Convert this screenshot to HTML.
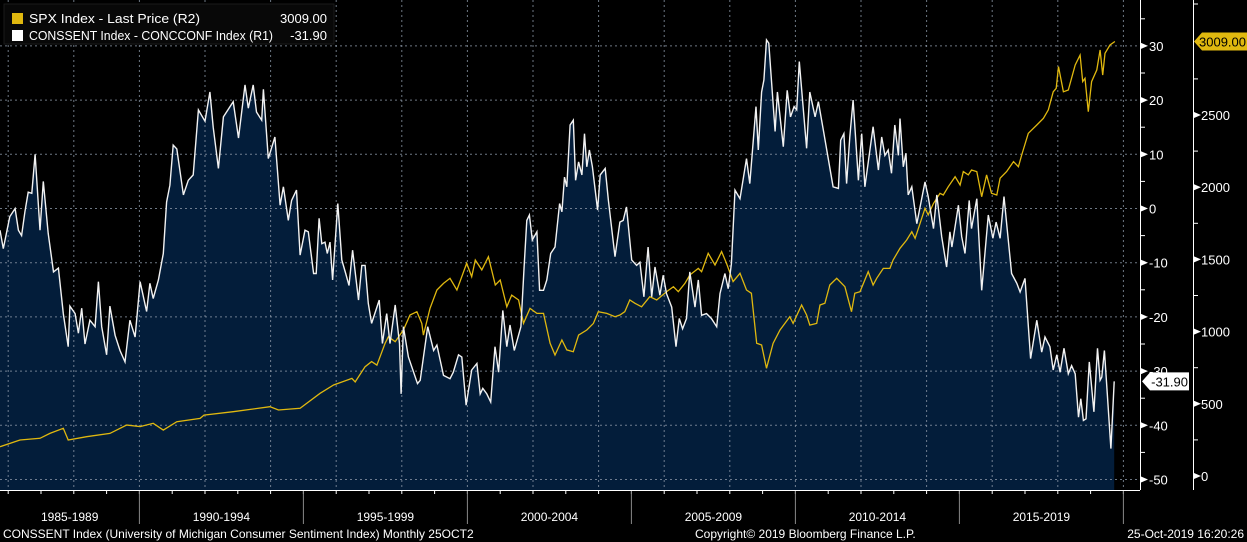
<!DOCTYPE html>
<html><head><meta charset="utf-8">
<style>
html,body{margin:0;padding:0;background:#000;}
svg{display:block;font-family:"Liberation Sans",sans-serif;}
</style></head>
<body>
<svg id="chart" width="1247" height="542" viewBox="0 0 1247 542" xmlns="http://www.w3.org/2000/svg">
<rect x="0" y="0" width="1247" height="542" fill="#000"/>
<g id="grid"></g>
<g id="series"></g>
<g id="axes"></g>
<g>
  <rect x="4" y="4" width="330" height="40" fill="#080808" stroke="#1a1a1a"/>
  <rect x="12" y="13" width="11" height="11" fill="#e0b80f"/>
  <text x="29" y="23" fill="#fff" font-size="13" textLength="171" lengthAdjust="spacingAndGlyphs">SPX Index - Last Price (R2)</text>
  <text x="327" y="23" fill="#fff" font-size="13" text-anchor="end">3009.00</text>
  <rect x="12" y="30" width="11" height="11" fill="#fff"/>
  <text x="29" y="40" fill="#fff" font-size="13" textLength="244" lengthAdjust="spacingAndGlyphs">CONSSENT Index - CONCCONF Index (R1)</text>
  <text x="327" y="40" fill="#fff" font-size="13" text-anchor="end">-31.90</text>
</g>
<text x="3" y="538" fill="#fff" font-size="12">CONSSENT Index (University of Michigan Consumer Sentiment Index)  Monthly 25OCT2</text>
<text x="695" y="538" fill="#fff" font-size="12">Copyright© 2019 Bloomberg Finance L.P.</text>
<text x="1244" y="538" fill="#fff" font-size="12" text-anchor="end">25-Oct-2019 16:20:26</text>
</svg>
<script>
// ---- data ----
const sentYears = [1985.75,1985.85,1986.05,1986.21,1986.31,1986.41,1986.51,1986.61,1986.72,1986.82,1986.97,1987.07,1987.22,1987.38,1987.53,1987.68,1987.83,1987.88,1988.04,1988.14,1988.24,1988.34,1988.49,1988.65,1988.75,1988.85,1989.00,1989.10,1989.26,1989.41,1989.56,1989.71,1989.87,1990.02,1990.22,1990.32,1990.42,1990.58,1990.73,1990.83,1990.93,1991.03,1991.14,1991.34,1991.49,1991.64,1991.80,1992.00,1992.15,1992.25,1992.41,1992.56,1992.86,1993.02,1993.22,1993.32,1993.47,1993.57,1993.73,1993.78,1993.93,1994.13,1994.29,1994.39,1994.54,1994.64,1994.79,1994.90,
1995.05,1995.15,1995.31,1995.39,1995.48,1995.56,1995.66,1995.73,1995.81,1995.89,1996.05,1996.17,1996.29,1996.39,1996.50,1996.68,1996.78,1996.88,1996.98,1997.08,1997.31,1997.41,1997.54,1997.64,1997.80,1997.93,1997.98,1998.05,1998.20,1998.48,1998.56,1998.79,1998.97,1999.07,1999.27,1999.47,1999.57,1999.73,1999.83,1999.96,2000.13,2000.29,2000.39,2000.47,2000.59,2000.71,2000.84,2000.95,2001.08,2001.20,2001.30,2001.43,2001.63,2001.73,2001.81,2001.89,2001.98,2002.12,2002.20,2002.32,2002.42,2002.54,2002.67,2002.81,2002.88,2002.96,2003.03,2003.13,2003.23,2003.30,2003.39,2003.49,2003.57,2003.64,2003.72,2003.81,2003.97,2004.05,2004.20,2004.30,2004.50,
2004.65,2004.75,2004.85,2005.01,2005.16,2005.26,2005.38,2005.51,2005.62,2005.72,2005.87,2005.97,2006.07,2006.23,2006.36,2006.46,2006.56,2006.68,2006.78,2006.94,2007.04,2007.14,2007.29,2007.44,2007.60,2007.70,2007.85,2007.95,2008.05,2008.16,2008.31,2008.51,2008.61,2008.80,2008.87,2008.97,2009.04,2009.12,2009.19,2009.38,2009.45,2009.63,2009.75,2009.85,2009.96,2010.04,2010.12,2010.34,2010.44,2010.60,2010.70,2010.85,2011.15,2011.31,2011.38,2011.48,2011.56,2011.66,2011.76,2011.92,2012.02,2012.12,2012.37,2012.53,2012.63,2012.73,2012.83,2012.93,2013.03,2013.14,
2013.19,2013.29,2013.37,2013.44,2013.55,2013.70,2013.95,2014.05,2014.21,2014.31,2014.46,2014.61,2014.71,2014.77,2014.97,2015.07,2015.17,2015.30,2015.37,2015.53,2015.68,2015.88,2016.02,2016.12,2016.24,2016.36,2016.46,2016.59,2016.75,2016.85,2017.00,2017.17,2017.36,2017.51,2017.61,2017.76,2017.86,2017.97,2018.07,2018.19,2018.32,2018.42,2018.53,2018.63,2018.70,2018.78,2018.86,2018.96,2019.10,2019.21,2019.29,2019.34,2019.42,2019.51,2019.62,2019.72];
const sentValues = [-4,-7.4,-1.5,0,-4,-5,-0.6,3,2.8,10,-4,5,-4.6,-11.7,-11,-19.4,-25.5,-18,-19.4,-23,-18.4,-25,-20.6,-21.8,-13.5,-21.8,-27,-18,-23.4,-26.2,-28.3,-20.6,-23.7,-13.5,-19,-13.8,-16.6,-13.2,-8.3,1.2,4.3,11.7,11,2.5,5.2,6.2,18.2,16.1,21.5,15,7.4,16.9,19.7,13,22.8,18.5,22.8,17.8,16.3,22,9.2,13.2,0.6,4,-2.2,1.5,3.4,-8.6,
-4,-4.3,-12,-12,-1.8,-6.5,-6.2,-8.3,-6.2,-13.2,0.9,-9.5,-12,-14.2,-7.7,-16.9,-10.5,-10.5,-17.5,-21.2,-16.9,-24.9,-19.4,-24.9,-17.8,-24.9,-34.2,-21.8,-27.4,-32.3,-31.7,-21.8,-26.2,-25.2,-30.8,-31.4,-30.2,-27,-27.4,-36.3,-29.8,-28.6,-34.2,-33.2,-34.2,-35.7,-25.5,-30.2,-18.8,-25.5,-21.5,-26.2,-21.8,-10.8,-2.2,-1.2,-5.8,-4.3,-15.1,-15.1,-13.2,-8.3,-7.1,0.9,-0.6,5.8,4,15.4,16.3,5.2,8.6,6.2,13.8,7.7,10.8,7.7,-0.3,6.2,7.4,1.5,-8.9,
-2.5,-2.2,0.3,-9.5,-10.5,-9.9,-16.3,-7.1,-16.3,-10.8,-16,-12.3,-15.7,-18.2,-25.5,-20.3,-22.2,-20.3,-11.7,-18.2,-13.2,-19.7,-19.4,-20.3,-21.8,-15.7,-12,-14.8,-10.2,3.4,1.8,9.2,4.6,18.8,10.8,21.5,23.7,31.1,30.5,14.2,21.5,11.4,21.8,16.9,18.8,18.2,27.1,11.1,21.5,16.9,19.7,14.5,4,3.7,12.6,13.8,4.6,13.2,20,5.2,13.8,4,15.1,7.1,13.2,9.8,10.8,6.5,15.4,9.8,
16.6,7.7,10.2,2.5,4,-2.8,4.9,2.2,-3.7,2.5,-5.2,-10.8,-4.3,-7.1,0.6,-5.2,-8.3,1.5,-3.7,1.8,-15.1,-1.2,-5.5,-2.5,-5.5,2.2,-4,-12,-13.8,-15.4,-12.9,-27.7,-20.6,-26.5,-23.7,-25.5,-29.8,-27,-30.2,-25.8,-30.5,-29,-30.5,-38.5,-35.1,-39.1,-38.8,-28.3,-37.5,-25.8,-31.7,-31.1,-26.2,-34.2,-44.3,-31.9];

const spxYears = [1985.75,1986.36,1986.97,1987.27,1987.68,1987.83,1988.39,1989.10,1989.61,1990.02,1990.42,1990.73,1991.14,1991.85,1991.97,1992.86,1993.98,1994.24,1994.90,
1995.51,1995.92,1996.48,1996.58,1996.88,1997.08,1997.24,1997.49,1997.59,1997.80,1998.05,1998.25,1998.46,1998.61,1998.66,1998.86,1999.07,1999.27,1999.47,1999.68,1999.98,2000.13,2000.24,2000.44,2000.64,2000.85,2001.00,2001.20,2001.35,2001.56,2001.71,2001.91,2002.12,2002.32,2002.52,2002.67,2002.88,2003.03,2003.23,2003.39,2003.64,2003.84,2003.99,2004.25,2004.50,
2004.65,2004.80,2004.95,2005.11,2005.31,2005.56,2005.77,2006.07,2006.28,2006.43,2006.63,2006.78,2007.04,2007.14,2007.34,2007.55,2007.75,2007.90,2008.10,2008.31,2008.51,2008.66,2008.82,2008.97,2009.12,2009.32,2009.53,2009.83,2009.93,2010.19,2010.34,2010.44,2010.65,2010.75,2010.90,2011.05,2011.26,2011.51,2011.71,2011.81,2011.97,2012.22,2012.37,2012.48,2012.68,2012.88,2012.98,
2013.19,2013.39,2013.55,2013.65,2013.75,2013.95,2014.05,2014.21,2014.41,2014.51,2014.66,2014.87,2015.02,2015.12,2015.27,2015.37,2015.53,2015.68,2015.83,2015.98,2016.14,2016.24,2016.44,2016.65,2016.80,2016.90,2017.10,2017.36,2017.56,2017.71,2017.86,2017.95,2018.02,2018.17,2018.32,2018.53,2018.68,2018.76,2018.83,2018.93,2019.03,2019.19,2019.29,2019.37,2019.44,2019.59,2019.74];
const spxValues = [203,249,261,295,330,249,272,295,353,342,365,318,376,399,422,445,480,457,469,
573,630,676,652,757,792,768,919,965,930,1011,1115,1138,1057,976,1161,1288,1334,1369,1288,1473,1380,1496,1427,1519,1323,1357,1172,1253,1219,1057,1161,1126,1126,919,838,942,873,861,976,1011,1057,1138,1126,1103,
1115,1138,1219,1196,1172,1242,1219,1276,1311,1276,1334,1392,1438,1415,1542,1461,1554,1473,1346,1404,1288,1265,919,907,746,919,1011,1103,1057,1184,1115,1045,1057,1184,1196,1323,1369,1311,1138,1265,1276,1415,1323,1369,1438,1438,1496,
1577,1634,1692,1646,1715,1854,1808,1888,1958,1946,2003,2073,2015,2108,2085,2119,2108,1934,2085,1958,1946,2062,2108,2177,2142,2223,2373,2431,2477,2535,2661,2685,2835,2661,2673,2846,2915,2731,2754,2523,2731,2812,2950,2777,2927,2985,3009];

const r1Ticks = [30,20,10,0,-10,-20,-30,-40,-50];
const r2Ticks = [0,500,1000,1500,2000,2500];
const periodLabels = ["1985-1989","1990-1994","1995-1999","2000-2004","2005-2009","2010-2014","2015-2019"];
const periodStarts = [1985,1990,1995,2000,2005,2010,2015];
const lastSent = -31.90;
const lastSpx = 3009.00;

// ---- axis functions ----
const X0 = 1985.75, PXY = 32.8, BOTTOM = 490;
const xs = y => (y - X0) * PXY;
const y1 = v => 208.5 - v * 5.42;
const y2 = p => 476 - p * 0.1444;

const NS = "http://www.w3.org/2000/svg";
function mk(tag, attrs, parent) {
  const e = document.createElementNS(NS, tag);
  for (const k in attrs) e.setAttribute(k, attrs[k]);
  parent.appendChild(e);
  return e;
}
const svg = document.getElementById('chart');
const grid = document.getElementById('grid');
const ser = document.getElementById('series');
const axes = document.getElementById('axes');

let d = 'M' + xs(sentYears[0]).toFixed(1) + ',' + BOTTOM;
sentYears.forEach((yr, i) => { d += ' L' + xs(yr).toFixed(1) + ',' + y1(sentValues[i]).toFixed(1); });
d += ' L' + xs(sentYears[sentYears.length - 1]).toFixed(1) + ',' + BOTTOM + ' Z';
const area = mk('path', {d: d, fill: '#031d3a'}, ser);



r1Ticks.forEach(v => {
  const l = mk('line', {x1: 0, x2: 1140, y1: y1(v), y2: y1(v), stroke: '#8a96a6', 'stroke-width': 1, 'stroke-dasharray': '2,3', opacity: 0.8}, ser);
  
  
});
for (let yr = 1986; yr <= 2020; yr += 2) {
  const x = xs(yr);
  const l = mk('line', {x1: x, x2: x, y1: 0, y2: BOTTOM, stroke: '#8a96a6', 'stroke-width': 1, 'stroke-dasharray': '2,3', opacity: 0.8}, ser);
  
  
}

const spxPts = spxYears.map((yr, i) => xs(yr).toFixed(1) + ',' + y2(spxValues[i]).toFixed(1)).join(' ');
const spxLine = mk('polyline', {points: spxPts, fill: 'none', stroke: '#e0b80f', 'stroke-width': 1.3}, ser);



const sPts = sentYears.map((yr, i) => xs(yr).toFixed(1) + ',' + y1(sentValues[i]).toFixed(1)).join(' ');
const sLine = mk('polyline', {points: sPts, fill: 'none', stroke: '#f2f2f2', 'stroke-width': 1.4}, ser);



const xa = mk('line', {x1: 0, x2: 1140, y1: BOTTOM + 0.5, y2: BOTTOM + 0.5, stroke: '#fff', 'stroke-width': 1}, axes);


for (let yr = 1986; yr <= 2020; yr++) {
  const t = mk('line', {x1: xs(yr), x2: xs(yr), y1: BOTTOM, y2: BOTTOM + 4, stroke: '#fff'}, axes);
  
  
}
periodStarts.forEach((ps, i) => {
  if (ps > 1985) {
    const s = mk('line', {x1: xs(ps), x2: xs(ps), y1: BOTTOM + 1, y2: 524, stroke: '#888'}, axes);
    
    
  }
  const left = Math.max(0, xs(ps)), right = xs(ps + 5);
  const t = mk('text', {x: (left + right) / 2, y: 521, fill: '#fff', 'font-size': 12, 'text-anchor': 'middle'}, axes);
  t.textContent = periodLabels[i];
  
  
});
const endSep = mk('line', {x1: xs(2020), x2: xs(2020), y1: BOTTOM + 1, y2: 524, stroke: '#888'}, axes);



const r1 = mk('line', {x1: 1140.5, x2: 1140.5, y1: 0, y2: BOTTOM, stroke: '#fff'}, axes);


r1Ticks.forEach(v => {
  const y = y1(v);
  const tri = mk('polygon', {points: `1141,${y-3} 1148,${y} 1141,${y+3}`, fill: '#fff'}, axes);
  
  
  const t = mk('text', {x: 1149, y: y + 5, fill: '#fff', 'font-size': 13}, axes);
  t.textContent = v;
  
  
  if (v > -50) {
    const m = mk('line', {x1: 1140, x2: 1145, y1: y1(v - 5), y2: y1(v - 5), stroke: '#fff'}, axes);
    
    
  }
});
const m35 = mk('line', {x1: 1140, x2: 1145, y1: y1(35), y2: y1(35), stroke: '#fff'}, axes);



const r2 = mk('line', {x1: 1193.5, x2: 1193.5, y1: 0, y2: BOTTOM, stroke: '#fff'}, axes);


r2Ticks.forEach(v => {
  const y = y2(v);
  const tri = mk('polygon', {points: `1194,${y-3} 1201,${y} 1194,${y+3}`, fill: '#fff'}, axes);
  
  
  const t = mk('text', {x: 1201, y: y + 5, fill: '#fff', 'font-size': 13}, axes);
  t.textContent = v;
  
  
  const m = mk('line', {x1: 1193, x2: 1198, y1: y2(v + 250), y2: y2(v + 250), stroke: '#fff'}, axes);
  
  
});
const m0 = mk('line', {x1: 1193, x2: 1198, y1: 4, y2: 4, stroke: '#fff'}, axes);



const ys = y1(lastSent);
const tagS = mk('polygon', {points: `1142,${ys} 1150,${ys-9} 1189,${ys-9} 1189,${ys+9} 1150,${ys+9}`, fill: '#fff'}, axes);


const tS = mk('text', {x: 1188, y: ys + 5, fill: '#000', 'font-size': 13, 'text-anchor': 'end'}, axes);
tS.textContent = lastSent.toFixed(2);



const yp = y2(lastSpx);
const tagP = mk('polygon', {points: `1194,${yp} 1202,${yp-9} 1247,${yp-9} 1247,${yp+9} 1202,${yp+9}`, fill: '#e0b80f'}, axes);


const tP = mk('text', {x: 1246, y: yp + 5, fill: '#000', 'font-size': 13, 'text-anchor': 'end'}, axes);
tP.textContent = lastSpx.toFixed(2);


</script>
</body></html>
